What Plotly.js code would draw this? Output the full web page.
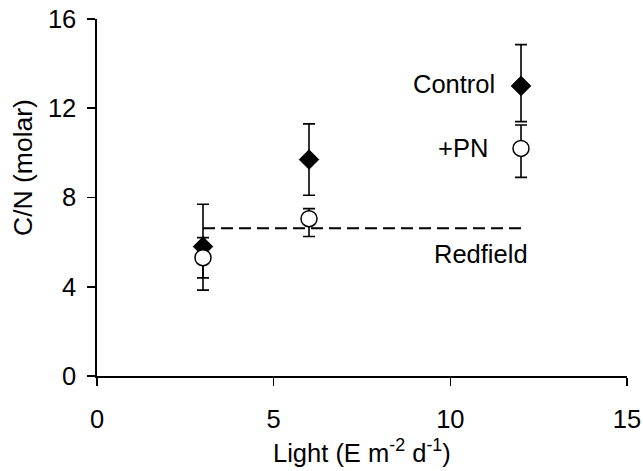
<!DOCTYPE html>
<html>
<head>
<meta charset="utf-8">
<script src="https://cdn.plot.ly/plotly-3.0.1.min.js"></script>
<style>
  html, body { margin: 0; padding: 0; background: #fff; }
  #chart { width: 643px; height: 471px; }
</style>
</head>
<body>
<div id="chart"></div>
<script>
// Light levels (E m-2 d-1)
const light = [3, 6, 12];

// C/N molar ratios with upper / lower error extents
const controlCN = [5.8, 9.7, 13.0];
const controlErrUp = [1.9, 1.6, 1.85];
const controlErrDown = [1.95, 1.6, 1.6];
const pnCN = [5.3, 7.05, 10.2];
const pnErrUp = [0.9, 0.45, 1.05];
const pnErrDown = [0.9, 0.8, 1.3];

// Redfield ratio drawn across the light range
const redfieldX = [3, 12];
const redfieldCN = [6.625, 6.625];

function mkFont(size) {
  return { family: 'Liberation Sans, Arial, sans-serif', size: size || 25.5, color: '#000000' };
}

function errStyle(up, down) {
  return { type: 'data', symmetric: false, array: up, arrayminus: down, visible: true,
           color: '#000', thickness: 1.6, width: 6 };
}

const traces = [
  {
    x: redfieldX, y: redfieldCN, mode: 'lines', type: 'scatter',
    line: { color: '#000', width: 2, dash: '12px,6px' },
    hoverinfo: 'skip'
  },
  {
    name: 'Control', x: light, y: controlCN, mode: 'markers', type: 'scatter',
    marker: { symbol: 'diamond', size: 15, color: '#000', line: { color: '#000', width: 1 } },
    error_y: errStyle(controlErrUp, controlErrDown)
  },
  {
    name: '+PN', x: light, y: pnCN, mode: 'markers', type: 'scatter',
    marker: { symbol: 'circle', size: 16, color: '#fff', line: { color: '#000', width: 1.5 } },
    error_y: errStyle(pnErrUp, pnErrDown)
  }
];

const layout = {
  width: 643, height: 471,
  margin: { l: 97, r: 16, t: 19, b: 95 },
  paper_bgcolor: '#fff', plot_bgcolor: '#fff',
  showlegend: false,
  font: mkFont(),
  xaxis: {
    range: [0, 15], tickvals: [0, 5, 10, 15], ticktext: ['0', '5', '10', '15'],
    showgrid: false, zeroline: false, showline: true, linecolor: '#000', linewidth: 1.6,
    ticks: 'outside', ticklen: 8, tickwidth: 1.6, tickcolor: '#000',
    tickfont: mkFont(), ticklabelstandoff: 12
  },
  yaxis: {
    range: [0, 16], tickvals: [0, 4, 8, 12, 16], ticktext: ['0', '4', '8', '12', '16'],
    showgrid: false, zeroline: false, showline: true, linecolor: '#000', linewidth: 1.6,
    ticks: 'outside', ticklen: 8, tickwidth: 1.6, tickcolor: '#000',
    tickfont: mkFont(), ticklabelstandoff: 6
  },
  annotations: [
    // axis titles
    { x: 362, y: 451, xref: 'paper', yref: 'paper', text: 'Light (E m<sup>-2</sup> d<sup>-1</sup>)',
      showarrow: false, xanchor: 'center', yanchor: 'middle', font: mkFont() },
    { x: 23, y: 168, xref: 'paper', yref: 'paper', text: 'C/N (molar)', textangle: -90,
      showarrow: false, xanchor: 'center', yanchor: 'middle', font: mkFont(26.5) },
    // series labels
    { x: 11.32, y: 13.09, xref: 'x', yref: 'y', text: 'Control', showarrow: false,
      xanchor: 'right', yanchor: 'middle', font: mkFont() },
    { x: 11.12, y: 10.2, xref: 'x', yref: 'y', text: '+PN', showarrow: false,
      xanchor: 'right', yanchor: 'middle', font: mkFont() },
    { x: 10.87, y: 5.47, xref: 'x', yref: 'y', text: 'Redfield', showarrow: false,
      xanchor: 'center', yanchor: 'middle', font: mkFont() }
  ]
};

// Axis-title annotations are given in pixels; convert them to paper fractions
const plotW = layout.width - layout.margin.l - layout.margin.r;
const plotH = layout.height - layout.margin.t - layout.margin.b;
layout.annotations.forEach(a => {
  if (a.xref === 'paper') {
    a.x = (a.x - layout.margin.l) / plotW;
    a.y = (layout.height - layout.margin.b - a.y) / plotH;
  }
});

Plotly.newPlot('chart', traces, layout, { displayModeBar: false, staticPlot: true });
</script>
</body>
</html>
